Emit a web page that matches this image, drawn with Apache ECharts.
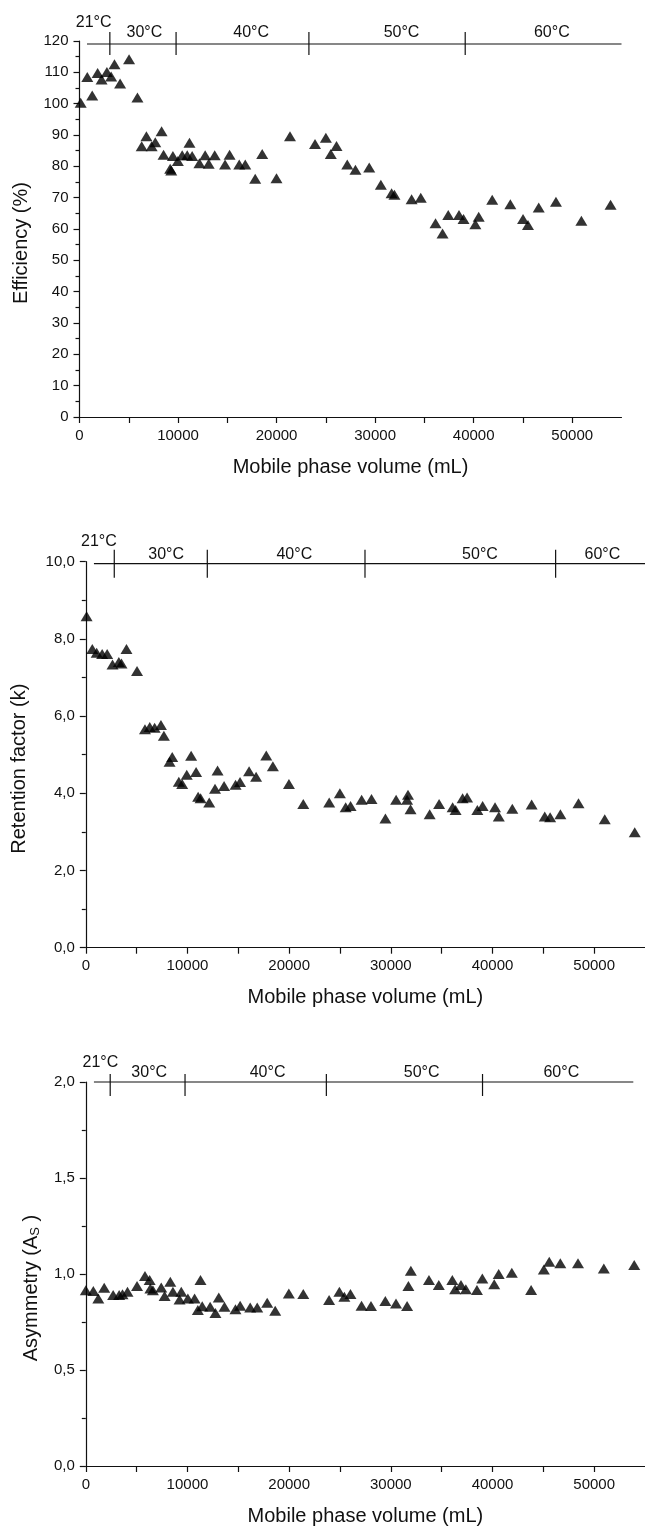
<!DOCTYPE html>
<html>
<head>
<meta charset="utf-8">
<script src="https://cdn.jsdelivr.net/npm/echarts@6/dist/echarts.min.js"></script>
<style>
    html, body { margin: 0; padding: 0; background: #fff; }
    #chart { width: 645px; height: 1528px; }
</style>
</head>
<body>
<div id="chart"></div>
<script>
// volume (mL) vs efficiency (%)
var efficiencyData = [
    [120, 100.3], [790, 108.5], [1290, 102.6], [1840, 109.8], [2240, 107.7], [2780, 110.1],
    [3210, 108.7], [3550, 112.6], [4120, 106.4], [5030, 114.2], [5880, 102.0], [6310, 86.4],
    [6790, 89.6], [7320, 86.4], [7690, 87.7], [8330, 91.2], [8530, 83.7], [9200, 79.2],
    [9310, 78.7], [9480, 83.3], [9980, 81.7], [10420, 83.5], [10930, 83.5], [11160, 87.5],
    [11430, 83.3], [12170, 81.0], [12750, 83.5], [13110, 80.8], [13720, 83.5], [14770, 80.6],
    [15230, 83.7], [16210, 80.6], [16820, 80.6], [17830, 76.0], [18540, 83.9], [19990, 76.2],
    [21360, 89.6], [23900, 87.1], [25000, 89.1], [25500, 83.9], [26080, 86.5], [27170, 80.6],
    [28000, 78.9], [29400, 79.6], [30580, 74.1], [31670, 71.4], [31960, 70.9], [33700, 69.5],
    [34630, 70.0], [36130, 61.8], [36840, 58.6], [37420, 64.5], [38510, 64.5], [38970, 63.2],
    [40170, 61.5], [40510, 63.9], [41880, 69.3], [43720, 67.9], [45010, 63.2], [45510, 61.3],
    [46600, 66.9], [48350, 68.7], [50930, 62.6], [53890, 67.7]
];

// volume (mL) vs retention factor k
var retentionData = [
    [80, 8.59], [640, 7.74], [1070, 7.64], [1610, 7.61], [2100, 7.61], [2630, 7.34],
    [3250, 7.40], [3510, 7.36], [4000, 7.74], [5040, 7.17], [5820, 5.66], [6290, 5.72],
    [6770, 5.70], [7390, 5.77], [7680, 5.49], [8240, 4.82], [8500, 4.94], [9150, 4.30],
    [9480, 4.24], [9930, 4.48], [10360, 4.97], [10850, 4.55], [11050, 3.91], [11290, 3.87],
    [12140, 3.76], [12710, 4.12], [12960, 4.59], [13600, 4.19], [14730, 4.22], [15170, 4.29],
    [16060, 4.57], [16750, 4.43], [17750, 4.98], [18400, 4.70], [19980, 4.24], [21390, 3.72],
    [23940, 3.76], [24990, 4.00], [25560, 3.64], [26040, 3.67], [27130, 3.83], [28100, 3.85],
    [29470, 3.35], [30520, 3.83], [31600, 3.83], [31690, 3.96], [31940, 3.59], [33820, 3.46],
    [34750, 3.72], [36080, 3.64], [36370, 3.57], [37060, 3.87], [37500, 3.89], [38510, 3.57],
    [39030, 3.67], [40250, 3.64], [40620, 3.40], [41950, 3.60], [43850, 3.71], [45140, 3.40],
    [45670, 3.38], [46680, 3.46], [48460, 3.74], [51040, 3.33], [53990, 2.99]
];

// volume (mL) vs asymmetry As
var asymmetryData = [
    [0, 0.916], [740, 0.911], [1230, 0.873], [1810, 0.928], [2690, 0.890], [3280, 0.890],
    [3610, 0.895], [4100, 0.907], [5040, 0.937], [5820, 0.990], [6280, 0.969], [6350, 0.925],
    [6600, 0.916], [7420, 0.930], [7750, 0.885], [8310, 0.960], [8570, 0.907], [9220, 0.867],
    [9390, 0.907], [10040, 0.873], [10700, 0.873], [11020, 0.812], [11280, 0.969], [11450, 0.832],
    [12230, 0.829], [12750, 0.797], [13080, 0.878], [13640, 0.829], [14720, 0.817], [15180, 0.834],
    [16170, 0.826], [16860, 0.826], [17840, 0.850], [18630, 0.808], [19970, 0.899], [21390, 0.896],
    [23930, 0.865], [24940, 0.908], [25430, 0.882], [26030, 0.896], [27120, 0.835], [28050, 0.833],
    [29460, 0.859], [30510, 0.847], [31600, 0.833], [31730, 0.938], [31970, 1.017], [33750, 0.969],
    [34720, 0.943], [36050, 0.969], [36330, 0.920], [36900, 0.943], [37380, 0.920], [38470, 0.917],
    [39000, 0.977], [40170, 0.946], [40610, 1.000], [41900, 1.007], [43800, 0.917], [45050, 1.024],
    [45580, 1.064], [46670, 1.056], [48410, 1.056], [50950, 1.028], [53940, 1.047]
];

// temperature steps drawn on top of each panel
var tempNames = ['21°C', '30°C', '40°C', '50°C', '60°C'];
var tempBounds1 = [3080, 9800, 23280, 39140];
var tempLabelX1 = [1440, 6590, 17420, 32680, 47930];
var tempLine1 = [760, 55000];
var tempBounds2 = [2800, 11950, 27460, 46210];
var tempLabelX2 = [1290, 7900, 20510, 38770, 50810];
var tempLine2 = [800, 55000];
var tempBounds3 = [2400, 9760, 23660, 39020];
var tempLabelX3 = [1440, 6240, 17880, 33030, 46770];
var tempLine3 = [800, 53850];

var FONT = '"Liberation Sans", Arial, sans-serif';
var INK = '#111';

var panels = [
    { data: efficiencyData, yMax: 120, yInt: 10, name: 'Efficiency (%)', dec: false,
      bounds: tempBounds1, labelX: tempLabelX1, line: tempLine1,
      grid: { left: 79.5, top: 41, width: 542, height: 376 },
      lineDy: 3, tickUp: 12, tickDown: 11, firstDy: -21, restDy: -11, nameGap: 48 },
    { data: retentionData, yMax: 10, yInt: 2, name: 'Retention factor (k)', dec: true,
      bounds: tempBounds2, labelX: tempLabelX2, line: tempLine2,
      grid: { left: 85.8, top: 561.7, width: 563, height: 386 },
      lineDy: 2, tickUp: 14, tickDown: 14, firstDy: -22, restDy: -9, nameGap: 56 },
    { data: asymmetryData, yMax: 2, yInt: 0.5, name: 'Asymmetry (A{sub|S} )', dec: true,
      bounds: tempBounds3, labelX: tempLabelX3, line: tempLine3,
      grid: { left: 85.8, top: 1082, width: 563, height: 384 },
      lineDy: 0, tickUp: 8, tickDown: 14, firstDy: -19, restDy: -9, nameGap: 44 }
];

function tempSeries(i) {
    var p = panels[i];
    var items = [];
    items.push({ kind: 'line', x: p.line[0], x2: p.line[1] });
    for (var k = 0; k < p.bounds.length; k++) {
        items.push({ kind: 'tick', x: p.bounds[k] });
    }
    for (var k = 0; k < p.labelX.length; k++) {
        items.push({ kind: 'label', x: p.labelX[k], text: tempNames[k] });
    }

    return {
        type: 'custom',
        xAxisIndex: i,
        yAxisIndex: i,
        silent: true,
        clip: false,
        z: 5,
        data: items.map(function(d) { return [d.x, p.yMax]; }),
        renderItem: function(params, api) {
            var d = items[params.dataIndex];
            var pt = api.coord([d.x, p.yMax]);
            var y = pt[1] + p.lineDy;
            if (d.kind == 'line') {
                var pt2 = api.coord([d.x2, p.yMax]);
                return { type: 'line', shape: { x1: pt[0], y1: y, x2: pt2[0], y2: y },
                         style: { stroke: INK, lineWidth: 1.2 } };
            } else if (d.kind == 'tick') {
                return { type: 'line', shape: { x1: pt[0], y1: y - p.tickUp, x2: pt[0], y2: y + p.tickDown },
                         style: { stroke: INK, lineWidth: 1.2 } };
            } else {
                var dy = (params.dataIndex == p.bounds.length + 1) ? p.firstDy : p.restDy;
                return { type: 'text', x: pt[0], y: y + dy,
                         style: { text: d.text, fill: INK, font: '16px ' + FONT,
                                  align: 'center', verticalAlign: 'middle' } };
            }
        }
    };
}

var grids = [], xAxes = [], yAxes = [], series = [];
for (var i = 0; i < panels.length; i++) {
    var p = panels[i];
    grids.push(p.grid);
    xAxes.push({
        type: 'value', gridIndex: i, min: 0, max: 55000, interval: 5000,
        name: 'Mobile phase volume (mL)', nameLocation: 'middle', nameGap: 40,
        nameTextStyle: { fontFamily: FONT, fontSize: 20, color: INK },
        axisLine: { show: true, lineStyle: { color: INK, width: 1.2 } },
        axisTick: { show: true, length: 6, lineStyle: { color: INK, width: 1.2 } },
        axisLabel: {
            fontFamily: FONT, fontSize: 15, color: INK, margin: 11, showMaxLabel: false,
            formatter: function(v) { return (v % 10000 == 0) ? String(v) : ''; }
        },
        splitLine: { show: false }
    });
    yAxes.push({
        type: 'value', gridIndex: i, min: 0, max: p.yMax, interval: p.yInt,
        name: p.name, nameLocation: 'middle', nameGap: p.nameGap,
        nameTextStyle: {
            fontFamily: FONT, fontSize: 20, color: INK, padding: [0, 28, 0, 0],
            rich: { sub: { fontFamily: FONT, fontSize: 13, color: INK, padding: [8, 0, 0, 0] } }
        },
        axisLine: { show: true, lineStyle: { color: INK, width: 1.2 } },
        axisTick: { show: true, length: 6, lineStyle: { color: INK, width: 1.2 } },
        minorTick: { show: true, splitNumber: 2, length: 4, lineStyle: { color: INK, width: 1.2 } },
        axisLabel: {
            fontFamily: FONT, fontSize: 15, color: INK, margin: 11,
            formatter: (function(dec) {
                return function(v) { return dec ? v.toFixed(1).replace('.', ',') : String(v); };
            })(p.dec)
        },
        splitLine: { show: false }
    });
    series.push({
        type: 'scatter', xAxisIndex: i, yAxisIndex: i, data: p.data,
        symbol: 'triangle', symbolSize: [12, 10], clip: false,
        itemStyle: { color: '#000' }, silent: true
    });
    series.push(tempSeries(i));
}

var chart = echarts.init(document.getElementById('chart'), null, { renderer: 'canvas' });
chart.setOption({
    animation: false,
    backgroundColor: '#fff',
    grid: grids,
    xAxis: xAxes,
    yAxis: yAxes,
    series: series
});
</script>
</body>
</html>
